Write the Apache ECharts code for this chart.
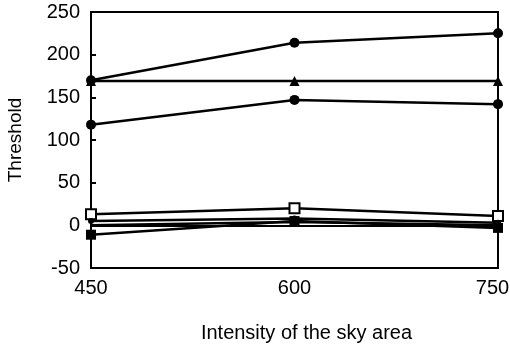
<!DOCTYPE html>
<html><head><meta charset="utf-8">
<script src="https://cdn.jsdelivr.net/npm/echarts@6/dist/echarts.min.js"></script>
<style>html,body{margin:0;padding:0;background:#fff}#c{width:510px;height:353px}</style>
</head><body><div id="c"></div>
<script>
const xValues = [450, 600, 750];
const seriesTop = [170, 214, 225];
const seriesTriangle = [169, 169, 169];
const seriesCircle = [118, 147, 142];
const seriesOpenSquare = [13, 20, 11];
const seriesSmallDot = [5, 8, 3];
const seriesPlain = [0, 4, 0];
const seriesFilledSquare = [-11, 5, -3];
const yTicks = [-50, 0, 50, 100, 150, 200, 250];

const pairs = arr => arr.map((v, i) => [xValues[i], v]);
const font = 'Liberation Sans, Arial, sans-serif';
const base = {type: 'line', lineStyle: {color: '#000', width: 2.5}, itemStyle: {color: '#000'}, symbolSize: 10, z: 3};
const xMax = xValues[xValues.length - 1];

const chart = echarts.init(document.getElementById('c'));
chart.setOption({
  animation: false,
  grid: {left: 91, right: 12, top: 12, bottom: 85, show: true, borderColor: '#000', borderWidth: 2, containLabel: false, outerBoundsMode: 'none'},
  xAxis: {
    type: 'value', min: 450, max: 750, interval: 150,
    name: 'Intensity of the sky area', nameLocation: 'middle', nameGap: 55,
    nameTextStyle: {fontFamily: font, fontSize: 20, color: '#000', padding: [0, 0, 0, 24]},
    axisLine: {show: true, lineStyle: {color: '#000', width: 2}},
    axisTick: {show: false},
    axisLabel: {
      fontFamily: font, fontSize: 20, color: '#000', margin: 10,
      formatter: v => v === xMax ? '{r|' + v + '}' : String(v),
      rich: {r: {fontFamily: font, fontSize: 20, color: '#000', padding: [0, 11, 0, 0]}}
    },
    splitLine: {show: false}
  },
  yAxis: {
    type: 'value', min: yTicks[0], max: yTicks[yTicks.length - 1], interval: 50,
    name: 'Threshold', nameLocation: 'middle', nameGap: 66,
    nameTextStyle: {fontFamily: font, fontSize: 19, color: '#000'},
    axisLine: {show: true, lineStyle: {color: '#000', width: 2}},
    axisTick: {show: true, inside: true, length: 5, lineStyle: {color: '#000', width: 2}},
    axisLabel: {fontFamily: font, fontSize: 20, color: '#000', margin: 11},
    splitLine: {show: false}
  },
  series: [
    Object.assign({}, base, {data: pairs(seriesTop), symbol: 'circle'}),
    Object.assign({}, base, {data: pairs(seriesTriangle), symbol: 'triangle'}),
    Object.assign({}, base, {data: pairs(seriesCircle), symbol: 'circle'}),
    Object.assign({}, base, {data: pairs(seriesOpenSquare), symbol: 'rect', itemStyle: {color: '#fff', borderColor: '#000', borderWidth: 2}}),
    Object.assign({}, base, {data: pairs(seriesSmallDot), symbol: 'circle', symbolSize: 6}),
    Object.assign({}, base, {data: pairs(seriesPlain), symbol: 'none'}),
    Object.assign({}, base, {data: pairs(seriesFilledSquare), symbol: 'rect'})
  ]
});
</script></body></html>
